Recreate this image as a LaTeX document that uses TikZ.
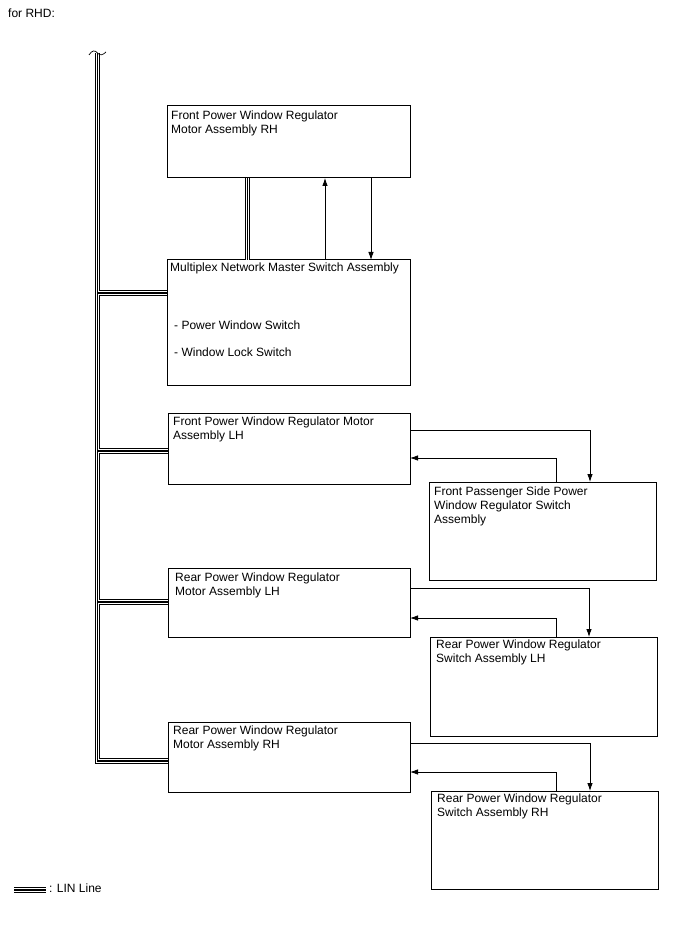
\documentclass[tikz,border=0pt]{standalone}
\usepackage{fontspec}
\setmainfont{Liberation Sans}
\usetikzlibrary{arrows.meta}
\begin{document}
\begin{tikzpicture}[x=1pt,y=-1pt,
  box/.style={draw, line width=1pt, inner sep=0pt, outer sep=0pt, anchor=north west},
  lbl/.style={anchor=north west, inner sep=0pt, align=left, font=\fontsize{12}{14}\selectfont},
  sig/.style={line width=0.8pt},
  arr/.style={sig, -{Latex[length=8pt,width=5.5pt]}},
  linA/.style={draw=black, line width=5.2pt},
  linB/.style={draw=white, line width=3.4pt},
  linC/.style={draw=black, line width=1.3pt}]
\useasboundingbox (0,0) rectangle (688,949);

% boxes
\node[box, minimum width=243pt, minimum height=72pt]  (m1) at (167,106) {};
\node[box, minimum width=243pt, minimum height=125pt] (m2) at (167,260) {};
\node[box, minimum width=242pt, minimum height=71pt]  (m3) at (168,413) {};
\node[box, minimum width=227pt, minimum height=98pt]  (s1) at (429,482) {};
\node[box, minimum width=242pt, minimum height=69pt]  (m5) at (168,568) {};
\node[box, minimum width=227pt, minimum height=99pt]  (s2) at (430,637) {};
\node[box, minimum width=242pt, minimum height=70pt]  (m7) at (168,722) {};
\node[box, minimum width=227pt, minimum height=98pt]  (s3) at (431,791) {};

% texts
\node[lbl] (t0) at (8,9) {for RHD:};
\node[lbl] (t1) at ([shift={(4pt,-5pt)}]m1.north west) {Front Power Window Regulator\\Motor Assembly RH};
\node[lbl] (t2) at ([shift={(3pt,-3pt)}]m2.north west) {Multiplex Network Master Switch Assembly};
\node[lbl] (t2b) at ([shift={(7pt,-61pt)}]m2.north west) {- Power Window Switch};
\node[lbl] (t2c) at ([shift={(7pt,-88pt)}]m2.north west) {- Window Lock Switch};
\node[lbl] (t3) at ([shift={(5pt,-4pt)}]m3.north west) {Front Power Window Regulator Motor\\Assembly LH};
\node[lbl] (t4) at ([shift={(5pt,-5pt)}]s1.north west) {Front Passenger Side Power\\Window Regulator Switch\\Assembly};
\node[lbl] (t5) at ([shift={(7pt,-5pt)}]m5.north west) {Rear Power Window Regulator\\Motor Assembly LH};
\node[lbl] (t6) at ([shift={(6pt,-3pt)}]s2.north west) {Rear Power Window Regulator\\Switch Assembly LH};
\node[lbl] (t7) at ([shift={(5pt,-4pt)}]m7.north west) {Rear Power Window Regulator\\Motor Assembly RH};
\node[lbl] (t8) at ([shift={(6pt,-3pt)}]s3.north west) {Rear Power Window Regulator\\Switch Assembly RH};

% LIN bus coordinates
\coordinate (top) at (97.5,53);
\coordinate (bot) at (97.5,761);
\coordinate (la) at (14,890);
\coordinate (lb) at (46,890);
\node[lbl, anchor=west] (tl) at (49,888) {: LIN Line};

\def\linpaths#1{%
  \draw[#1] (top) -- (bot) -- (bot -| m7.west);
  \draw[#1] (top |- 0,293) -- (m2.west |- 0,293);
  \draw[#1] (top |- 0,451) -- (m3.west |- 0,451);
  \draw[#1] (top |- 0,602) -- (m5.west |- 0,602);
  \draw[#1] (m1.south -| 247.5,0) -- (m2.north -| 247.5,0);
  \draw[#1] (la) -- (lb);
}
\linpaths{linA}
\linpaths{linB}
\linpaths{linC}

% wavy top
\draw[line width=0.7pt] (89,55) .. controls (92,50) and (95,50) .. (97.5,53)
  .. controls (100,56) and (103,55) .. (106,52);

% signal lines
\draw[arr] ([xshift=158pt]m2.north west) -- ([xshift=158pt]m1.south west);
\draw[arr] ([xshift=204pt]m1.south west) -- ([xshift=204pt]m2.north west);

\draw[arr] ([yshift=-17pt]m3.north east) -| ([xshift=161pt]s1.north west);
\draw[arr] ([xshift=127pt]s1.north west) |- ([yshift=-45pt]m3.north east);

\draw[arr] ([yshift=-20pt]m5.north east) -| ([xshift=159pt]s2.north west);
\draw[arr] ([xshift=126pt]s2.north west) |- ([yshift=-50pt]m5.north east);

\draw[arr] ([yshift=-21pt]m7.north east) -| ([xshift=159pt]s3.north west);
\draw[arr] ([xshift=125pt]s3.north west) |- ([yshift=-50pt]m7.north east);
\end{tikzpicture}
\end{document}
